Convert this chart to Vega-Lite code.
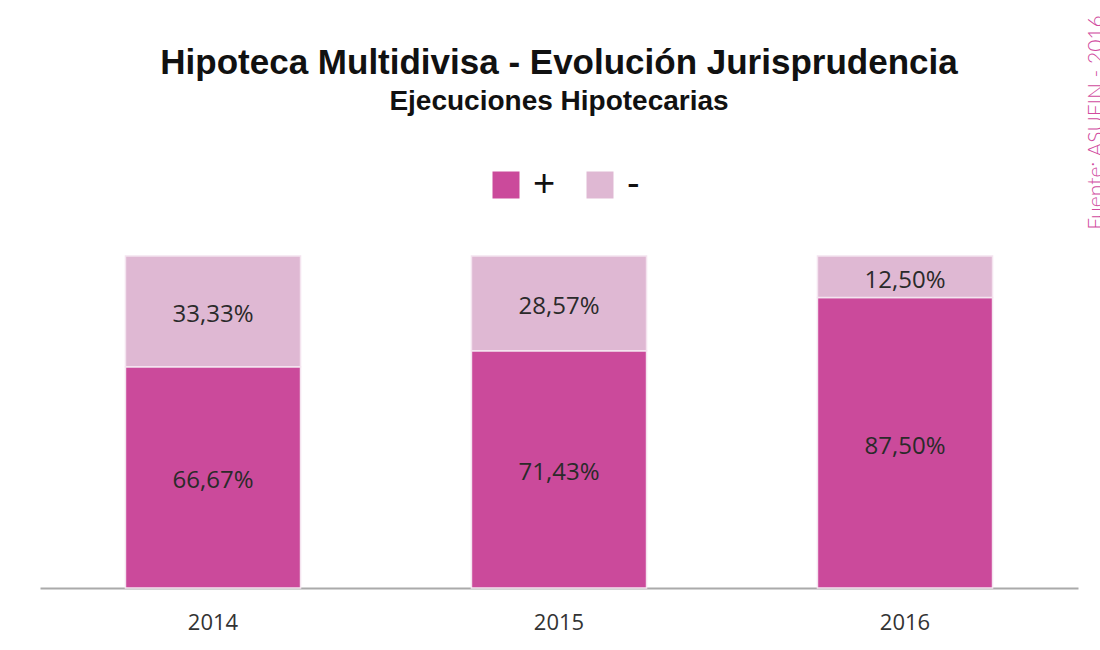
{
  "$schema": "https://vega.github.io/schema/vega-lite/v6.json",
  "autosize": {"type": "none"},
  "width": 1038,
  "height": 332,
  "padding": {"left": 40, "top": 256, "right": 22, "bottom": 62},
  "background": "#ffffff",
  "title": {
    "text": "Hipoteca Multidivisa - Evolución Jurisprudencia",
    "subtitle": "Ejecuciones Hipotecarias",
    "font": "Liberation Sans",
    "fontSize": 35,
    "fontWeight": "bold",
    "color": "#111111",
    "subtitleFont": "Liberation Sans",
    "subtitleFontSize": 28,
    "subtitleFontWeight": "bold",
    "subtitleColor": "#111111",
    "subtitlePadding": 7,
    "anchor": "middle",
    "frame": "group",
    "offset": -102
  },
  "data": {
    "values": [
      {"year": "2014", "sign": "+", "v": 0.6667, "order": 1},
      {"year": "2014", "sign": "-", "v": 0.3333, "order": 2},
      {"year": "2015", "sign": "+", "v": 0.7143, "order": 1},
      {"year": "2015", "sign": "-", "v": 0.2857, "order": 2},
      {"year": "2016", "sign": "+", "v": 0.875, "order": 1},
      {"year": "2016", "sign": "-", "v": 0.125, "order": 2}
    ]
  },
  "encoding": {
    "x": {
      "field": "year",
      "type": "nominal",
      "scale": {"paddingInner": 0.494, "paddingOuter": 0.247},
      "axis": {
        "title": null,
        "labelAngle": 0,
        "domainColor": "#aaaaaa",
        "domainWidth": 2,
        "ticks": false,
        "labelFont": "Open Sans",
        "labelFontSize": 22,
        "labelColor": "#333333",
        "labelPadding": 24
      }
    }
  },
  "layer": [
    {
      "mark": {"type": "bar", "stroke": "#f4e4ef", "strokeWidth": 1.5},
      "encoding": {
        "y": {
          "field": "v",
          "type": "quantitative",
          "stack": "zero",
          "scale": {"domain": [0, 1]},
          "axis": {
            "orient": "right",
            "domain": false,
            "ticks": false,
            "labels": false,
            "grid": false,
            "title": "Fuente: ASUFIN - 2016",
            "titleAngle": 270,
            "titleAlign": "center",
            "titleBaseline": "alphabetic",
            "titleX": 24,
            "titleY": -134,
            "titleColor": "#d04a9e",
            "titleFont": "Lato",
            "titleFontWeight": 300,
            "titleFontSize": 21
          }
        },
        "order": {"field": "order", "type": "quantitative"},
        "color": {
          "field": "sign",
          "type": "nominal",
          "scale": {"domain": ["+", "-"], "range": ["#cb4a9b", "#dfb8d3"]},
          "legend": {
            "title": null,
            "orient": "none",
            "direction": "horizontal",
            "legendX": 447,
            "legendY": -90,
            "symbolType": "square",
            "symbolSize": 729,
            "symbolStrokeWidth": 0,
            "labelFont": "Liberation Sans",
            "labelFontSize": 38,
            "labelColor": "#111111",
            "labelOffset": 8,
            "columnPadding": 25
          }
        }
      }
    },
    {
      "transform": [
        {"stack": "v", "groupby": ["year"], "sort": [{"field": "order"}], "as": ["v0", "v1"]},
        {"calculate": "(datum.v0 + datum.v1) / 2", "as": "mid"}
      ],
      "mark": {"type": "text", "font": "Open Sans", "fontSize": 24, "color": "#2a2a2a", "baseline": "middle", "dy": 4},
      "encoding": {
        "y": {"field": "mid", "type": "quantitative", "scale": {"domain": [0, 1]}},
        "text": {"field": "v", "type": "quantitative", "format": ".2%"}
      }
    }
  ],
  "config": {
    "view": {"stroke": null},
    "locale": {
      "number": {"decimal": ",", "thousands": ".", "grouping": [3], "currency": ["", " €"]}
    }
  }
}
